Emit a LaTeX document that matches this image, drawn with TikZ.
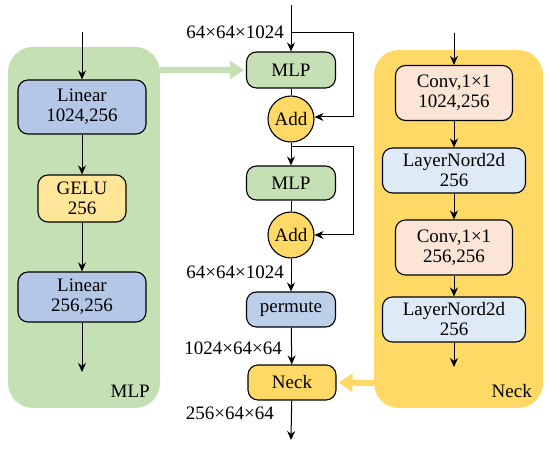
\documentclass[tikz,border=0pt]{standalone}
\usepackage{fontspec}
\setmainfont{Liberation Serif}
\usetikzlibrary{arrows.meta,positioning}
\definecolor{pgreen}{HTML}{C5E0B4}
\definecolor{pblue}{HTML}{B4C7E7}
\definecolor{pgelu}{HTML}{FFE699}
\definecolor{pyel}{HTML}{FFD966}
\definecolor{ppeach}{HTML}{FBE5D6}
\definecolor{plblue}{HTML}{DEEBF7}
\definecolor{pperm}{HTML}{BDD0EA}
\begin{document}
\begin{tikzpicture}[x=1pt,y=-1pt,
  every node/.style={font=\fontsize{19}{20}\selectfont, inner sep=0pt},
  blk/.style={draw=black, line width=1.1pt, rounded corners=10pt, align=center},
  addc/.style={draw=black, line width=1.1pt, circle, fill=pyel, minimum size=46pt},
  panel/.style={rounded corners=25pt},
  arr/.style={-{Stealth[length=9pt,width=8pt]}, line width=1pt},
  ln/.style={line width=1pt},
  fat/.style={line width=6pt, -{Triangle[length=14pt,width=18pt]}}
]
\useasboundingbox (0,0) rectangle (550,449);
% panels
\fill[pgreen,panel] (8,47) rectangle (160,408);
\fill[pyel,panel] (374,50) rectangle (543,408);
\node[anchor=south east] (mlplab) at (150,398) {MLP};
\node[anchor=south east] (necklab) at (532,398) {Neck};

% left column
\coordinate (ltop) at (82,32);
\node[blk, fill=pblue, minimum width=128pt, minimum height=54pt] (lin1) at (82,107) {Linear\\1024,256};
\node[blk, fill=pgelu, minimum width=88pt, minimum height=47pt] (gelu) at (82,198.5) {GELU\\256};
\node[blk, fill=pblue, minimum width=128pt, minimum height=50pt] (lin2) at (82,297) {Linear\\256,256};
\coordinate (lbot) at (82,372);
\draw[arr] (ltop) -- (lin1);
\draw[arr] (lin1) -- (gelu);
\draw[arr] (gelu) -- (lin2);
\draw[arr] (lin2) -- (lbot);

% right column
\coordinate (rtop) at (454,33);
\node[blk, fill=ppeach, minimum width=117pt, minimum height=55pt] (conv1) at (454,93) {Conv,1×1\\1024,256};
\node[blk, fill=plblue, minimum width=143pt, minimum height=45pt] (ln1) at (454,170.5) {LayerNord2d\\256};
\node[blk, fill=ppeach, minimum width=117pt, minimum height=55pt] (conv2) at (454,247.5) {Conv,1×1\\256,256};
\node[blk, fill=plblue, minimum width=143pt, minimum height=45pt] (ln2) at (454,319.5) {LayerNord2d\\256};
\coordinate (rbot) at (454,367);
\draw[arr] (rtop) -- (conv1);
\draw[arr] (conv1) -- (ln1);
\draw[arr] (ln1) -- (conv2);
\draw[arr] (conv2) -- (ln2);
\draw[arr] (ln2) -- (rbot);

% center column
\coordinate (ctop) at (291,5);
\node[blk, fill=pgreen, minimum width=89pt, minimum height=36pt] (mlp1) at (291,70) {MLP};
\node[addc] (add1) at (291,119) {Add};
\node[blk, fill=pgreen, minimum width=89pt, minimum height=34pt] (mlp2) at (291,183) {MLP};
\node[addc] (add2) at (291,235) {Add};
\node[blk, fill=pperm, minimum width=89pt, minimum height=35pt] (perm) at (291,309.5) {permute};
\node[blk, fill=pyel, minimum width=88pt, minimum height=35pt] (neck) at (292,382.5) {Neck};
\coordinate (cbot) at (291,440);

\coordinate (s1) at (291,33);
\coordinate (s2) at (291,147);
\draw[arr] (ctop) -- (mlp1);
\draw[ln] (mlp1) -- (add1);
\draw[arr] (add1) -- (mlp2);
\draw[ln] (mlp2) -- (add2);
\draw[arr] (add2) -- (perm);
\draw[arr] (perm) -- (neck);
\draw[arr] (neck) -- (cbot);
\draw[arr] (s1) -- (353,33) -- (353,117) -- (add1.east |- 0,117);
\draw[arr] (s2) -- (353,147) -- (353,235) -- (add2.east);

% dimension labels
\node[anchor=east] (d1) at (284,32) {64×64×1024};
\node[anchor=east] (d2) at (284,272) {64×64×1024};
\node[anchor=east] (d3) at (282,348) {1024×64×64};
\node[anchor=east] (d4) at (274,413) {256×64×64};

% panel arrows
\coordinate (gstart) at (160,70);
\draw[fat, pgreen] (gstart) -- ([xshift=-2pt]mlp1.west);
\coordinate (ystart) at (375,383);
\draw[fat, pyel] (ystart) -- ([xshift=2pt]neck.east);
\end{tikzpicture}
\end{document}
